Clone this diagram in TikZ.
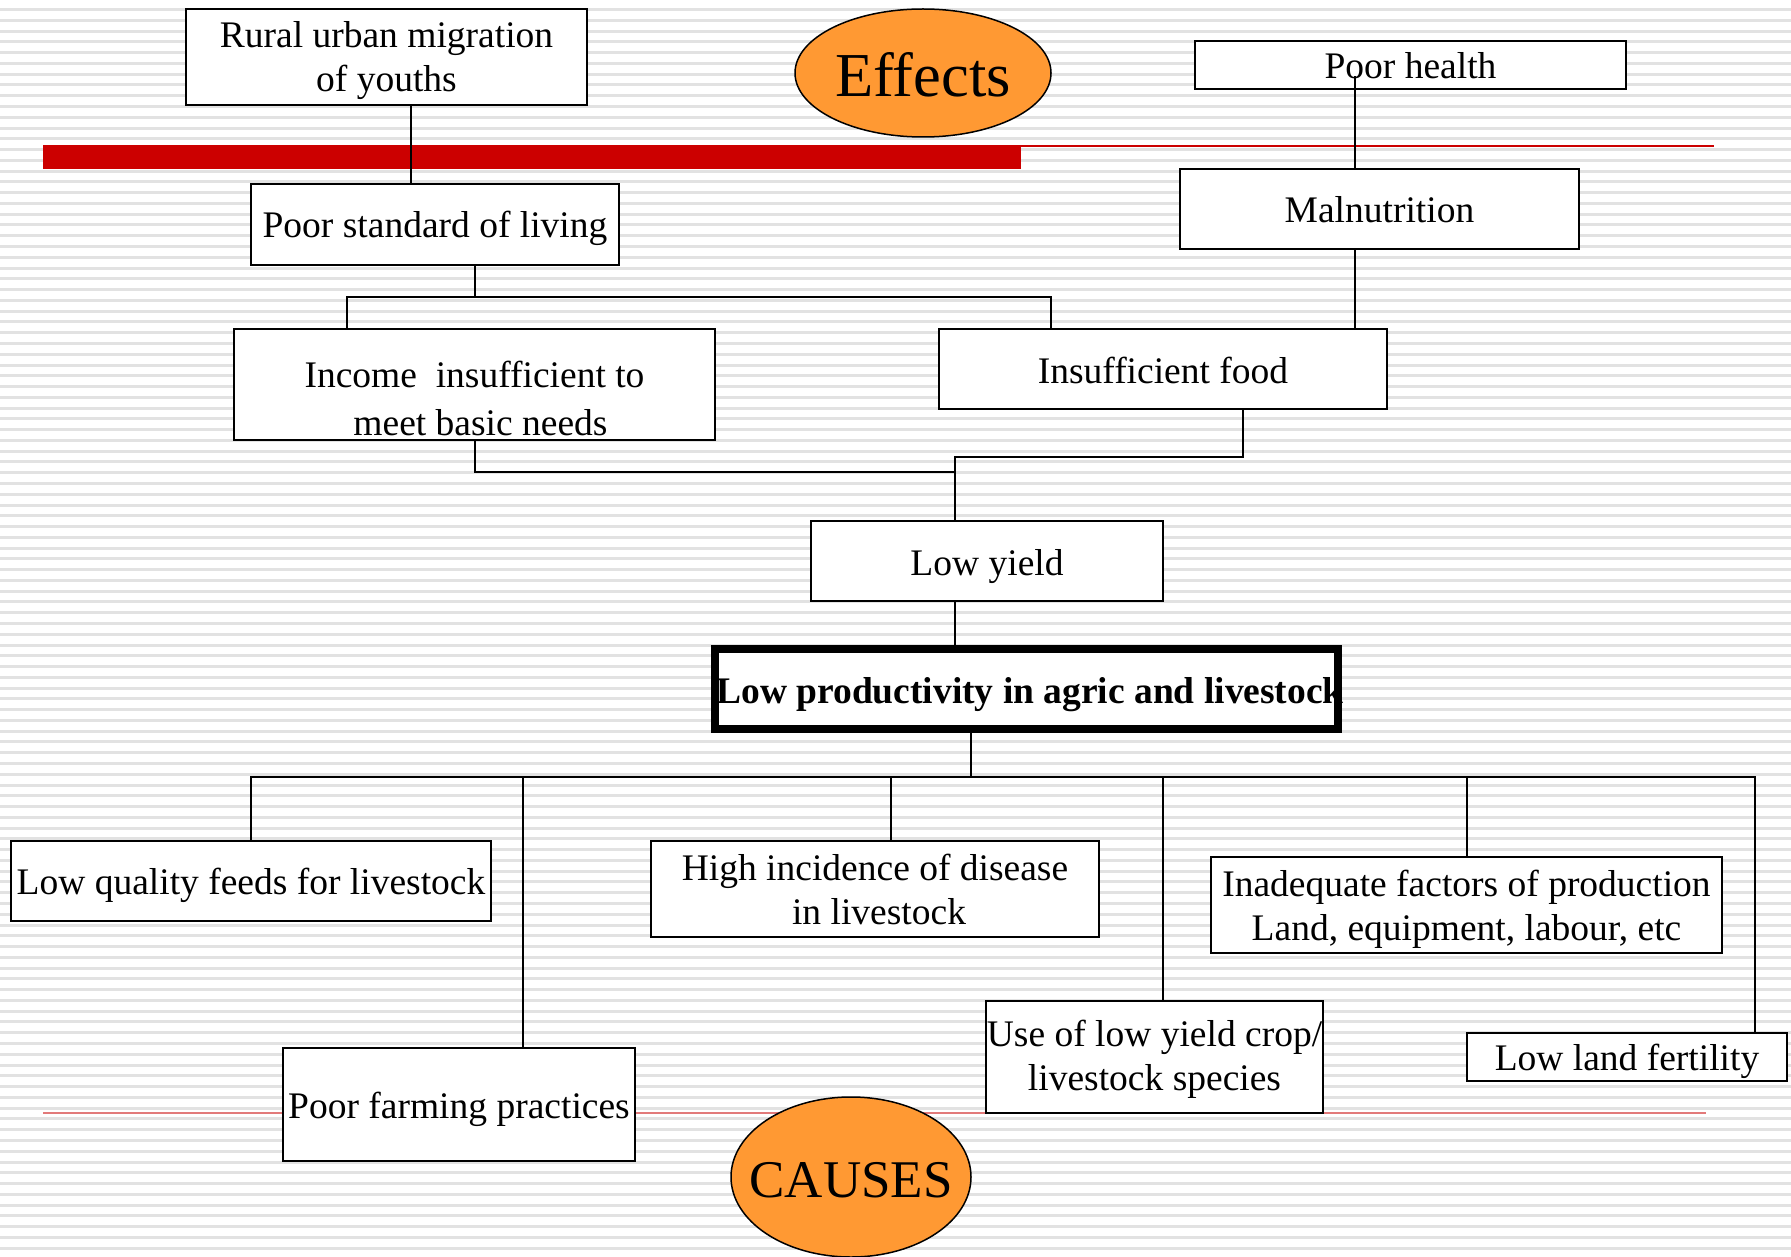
\documentclass[tikz,border=0pt]{standalone}
\usepackage{fontspec}
\setmainfont{Liberation Serif}
\usetikzlibrary{shapes.geometric}
\definecolor{barred}{RGB}{204,0,0}
\definecolor{pinkred}{RGB}{226,122,122}
\definecolor{orng}{RGB}{255,153,51}
\definecolor{stripe}{RGB}{226,226,226}
\begin{document}
\begin{tikzpicture}[x=1pt, y=-1pt,
  every node/.style={font=\fontsize{37.5}{44}\selectfont},
  box/.style={draw, fill=white, line width=1.5pt, rectangle, inner sep=0pt, align=center},
  oval/.style={ellipse, draw, fill=orng, line width=1.5pt, inner sep=0pt},
  conn/.style={line width=1.5pt, line cap=rect}]
\useasboundingbox (0,0) rectangle (1791,1257);
% background
\fill[white] (0,0) rectangle (1791,1257);
\foreach \i in {0,...,116} {
  \fill[stripe] (0,{9.6+\i*10.77-1.5}) rectangle (1791,{9.6+\i*10.77+1.5});
}
% red rules
\fill[barred] (43,145) rectangle (1021,169);
\draw[barred, line width=2pt] (1021,146) -- (1714,146);
\draw[pinkred, line width=2pt] (43,1113) -- (1706,1113);

% column / row coordinates
\coordinate (c1) at (411,0);
\coordinate (c2) at (475,0);
\coordinate (c3) at (347,0);
\coordinate (c4) at (1051,0);
\coordinate (c5) at (1243,0);
\coordinate (c6) at (955,0);
\coordinate (c7) at (1355,0);
\coordinate (c8) at (971,0);
\coordinate (c9) at (251,0);
\coordinate (c10) at (523,0);
\coordinate (c11) at (891,0);
\coordinate (c12) at (1163,0);
\coordinate (c13) at (1467,0);
\coordinate (c14) at (1755,0);
\coordinate (bus1) at (0,297);
\coordinate (bus2) at (0,472);
\coordinate (bus3) at (0,457);
\coordinate (bus4) at (0,777);
\coordinate (phx) at (1355,77);

% effect boxes
\node[box, minimum width=401, minimum height=96, text height=70, text depth=0] (rural) at (386.5,57) {Rural urban migration\\of youths};
\node[box, minimum width=368, minimum height=81, text height=27, text depth=0] (poorstd) at (435,224.5) {Poor standard of living};
\node[box, minimum width=481, minimum height=111, text height=101, text depth=0] (income) at (474.5,384.5) {Income\ \ insufficient to\\[4pt]\hspace*{12pt}meet basic needs};
\node[box, minimum width=448, minimum height=80, text height=28, text depth=0] (insfood) at (1163,369) {Insufficient food};
\node[box, minimum width=431, minimum height=48, text height=28, text depth=0] (poorhealth) at (1410.5,65) {Poor health};
\node[box, minimum width=399, minimum height=80, text height=28, text depth=0] (maln) at (1379.5,209) {Malnutrition};
\node[box, minimum width=352, minimum height=80, text height=28, text depth=0] (lowyield) at (987,561) {Low yield};
\node[box, minimum width=623, minimum height=80, line width=8pt, text height=29, text depth=0,
      font=\bfseries\fontsize{37.5}{44}\selectfont] (lowprod) at (1026.5,689) {\makebox[0pt]{\kern7pt Low productivity in agric and livestock}};

% cause boxes
\node[box, minimum width=480, minimum height=80, text height=26, text depth=0] (lowqual) at (251,881) {Low quality feeds for livestock};
\node[box, minimum width=448, minimum height=96, text height=70, text depth=0] (highinc) at (875,889) {High incidence of disease\\\hspace*{8pt}in livestock};
\node[box, minimum width=511, minimum height=96, text height=70, text depth=0] (inadeq) at (1466.5,905) {Inadequate factors of production\\Land, equipment, labour, etc};
\node[box, minimum width=337, minimum height=112, text height=66, text depth=0] (uselow) at (1154.5,1057) {Use of low yield crop/\\livestock species};
\node[box, minimum width=320, minimum height=48, text height=26, text depth=0] (lowland) at (1627,1057) {Low land fertility};
\node[box, minimum width=352, minimum height=113, text height=27, text depth=0] (poorfarm) at (459,1104.5) {Poor farming practices};

% ovals
\node[oval, minimum width=256, minimum height=128, text height=48, text depth=0,
      font=\fontsize{62.5}{70}\selectfont] (effects) at (923,73) {\makebox[0pt]{Effects}};
\node[oval, minimum width=240, minimum height=160, text height=40, text depth=0,
      font=\fontsize{53}{60}\selectfont] (causes) at (851,1177) {\makebox[0pt]{CAUSES}};

% connectors (effects side)
\draw[conn] (rural.south -| c1) -- (poorstd.north -| c1);
\draw[conn] (poorstd.south -| c2) -- (c2 |- bus1);
\draw[conn] (income.north -| c3) -- (c3 |- bus1) -- (c4 |- bus1) -- (insfood.north -| c4);
\draw[conn] (income.south -| c2) -- (c2 |- bus2) -- (c6 |- bus2);
\draw[conn] (insfood.south -| c5) -- (c5 |- bus3) -- (c6 |- bus3) -- (lowyield.north -| c6);
\draw[conn] (lowyield.south -| c6) -- (lowprod.north -| c6);
\draw[conn] (phx) -- (maln.north -| c7);
\draw[conn] (maln.south -| c7) -- (insfood.north -| c7);
% connectors (causes side)
\draw[conn] (lowprod.south -| c8) -- (c8 |- bus4);
\draw[conn] (lowqual.north -| c9) -- (c9 |- bus4) -- (c14 |- bus4) -- (lowland.north -| c14);
\draw[conn] (c10 |- bus4) -- (poorfarm.north -| c10);
\draw[conn] (c11 |- bus4) -- (highinc.north -| c11);
\draw[conn] (c12 |- bus4) -- (uselow.north -| c12);
\draw[conn] (c13 |- bus4) -- (inadeq.north -| c13);
\end{tikzpicture}
\end{document}
